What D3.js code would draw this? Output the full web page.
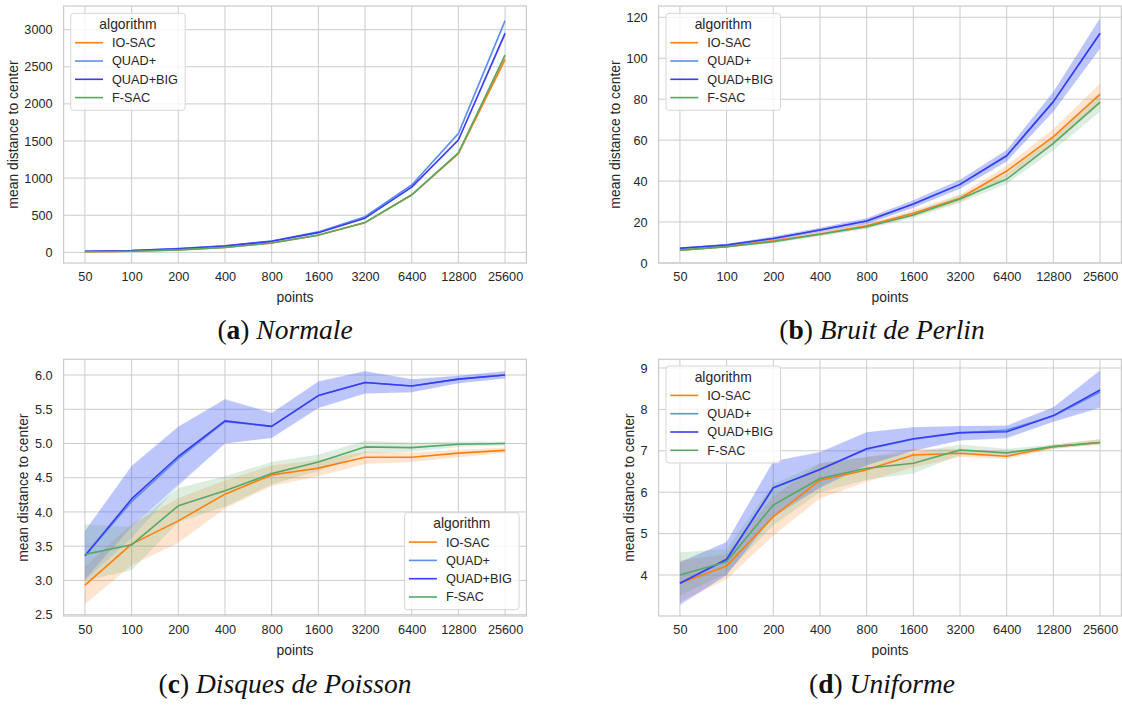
<!DOCTYPE html>
<html><head><meta charset="utf-8">
<script src="https://cdn.jsdelivr.net/npm/d3@7"></script>
<style>
html,body{margin:0;padding:0;background:#fff;}
svg{display:block;}
</style></head>
<body>
<svg id="chart" width="1122" height="706"></svg>
<script>
// ---------------- DATA ----------------
const categories = ["50","100","200","400","800","1600","3200","6400","12800","25600"];
const seriesNames = ["IO-SAC","QUAD+","QUAD+BIG","F-SAC"];
const seriesColors = ["#ff7f0e","#5b8ff0","#3b3bf6","#55a868"];

// (a) Normale
const normale_IOSAC    = [7,15,33,65,125,230,400,772,1330,2600];
const normale_IOSAC_lo = [6,14,31,62,121,224,392,760,1310,2565];
const normale_IOSAC_hi = [8,16,35,68,129,236,408,784,1350,2635];
const normale_QUAD     = [14,25,50,88,152,275,480,907,1600,3120];
const normale_QUAD_lo  = [13,24,48,85,148,268,470,893,1578,3080];
const normale_QUAD_hi  = [15,26,52,91,156,282,490,921,1622,3160];
const normale_QBIG     = [14,24,48,85,148,265,460,878,1513,2950];
const normale_QBIG_lo  = [13,23,46,82,144,259,451,865,1493,2912];
const normale_QBIG_hi  = [15,25,50,88,152,271,469,891,1533,2988];
const normale_FSAC     = [7,15,33,66,126,232,402,775,1340,2658];
const normale_FSAC_lo  = [6,14,31,63,122,226,394,763,1320,2622];
const normale_FSAC_hi  = [8,16,35,69,130,238,410,787,1360,2694];

// (b) Bruit de Perlin
const perlin_IOSAC    = [6.3,8.0,10.9,14.2,18.2,24.3,31.6,44.9,61.7,82.4];
const perlin_IOSAC_lo = [5.8,7.4,10.2,13.3,17.1,22.8,29.7,42.2,57.8,77.4];
const perlin_IOSAC_hi = [6.8,8.6,11.6,15.1,19.3,25.8,33.5,47.6,65.6,87.6];
const perlin_QUAD     = [7.2,8.8,12.0,16.1,20.5,28.8,38.4,52.4,78.8,112.0];
const perlin_QUAD_lo  = [6.7,8.2,11.1,15.0,19.1,27.0,36.2,49.6,74.0,104.8];
const perlin_QUAD_hi  = [7.7,9.4,12.9,17.2,21.9,30.6,40.6,55.2,83.6,119.2];
const perlin_QBIG     = [7.2,8.8,12.0,16.1,20.5,28.8,38.4,52.4,78.8,112.2];
const perlin_QBIG_lo  = [6.7,8.2,11.1,15.0,19.1,27.0,36.2,49.6,74.0,104.6];
const perlin_QBIG_hi  = [7.7,9.4,12.9,17.2,21.9,30.6,40.6,55.2,83.6,119.8];
const perlin_FSAC     = [6.3,8.0,10.4,14.0,17.7,23.4,31.3,41.0,58.4,78.6];
const perlin_FSAC_lo  = [5.8,7.4,9.7,13.1,16.6,22.0,29.5,38.6,55.0,73.8];
const perlin_FSAC_hi  = [6.8,8.6,11.1,14.9,18.8,24.8,33.1,43.4,61.8,83.4];

// (c) Disques de Poisson
const poisson_IOSAC    = [2.93,3.53,3.87,4.26,4.54,4.64,4.80,4.80,4.86,4.90];
const poisson_IOSAC_lo = [2.65,3.22,3.55,4.05,4.38,4.52,4.70,4.73,4.80,4.86];
const poisson_IOSAC_hi = [3.20,3.82,4.20,4.46,4.68,4.76,4.88,4.87,4.91,4.94];
const poisson_QUAD     = [3.36,4.15,4.78,5.32,5.25,5.70,5.89,5.84,5.94,6.00];
const poisson_QUAD_lo  = [3.00,3.62,4.38,5.00,5.08,5.52,5.73,5.75,5.88,5.95];
const poisson_QUAD_hi  = [3.72,4.66,5.24,5.64,5.44,5.90,6.05,5.94,5.99,6.05];
const poisson_QBIG     = [3.36,4.19,4.81,5.33,5.25,5.70,5.89,5.84,5.94,6.00];
const poisson_QBIG_lo  = [3.02,3.78,4.40,5.00,5.08,5.52,5.73,5.75,5.88,5.95];
const poisson_QBIG_hi  = [3.72,4.68,5.25,5.65,5.45,5.91,6.06,5.94,5.99,6.06];
const poisson_FSAC     = [3.38,3.52,4.09,4.31,4.56,4.73,4.95,4.94,4.99,5.00];
const poisson_FSAC_lo  = [3.00,3.15,3.85,4.08,4.40,4.60,4.86,4.88,4.95,4.97];
const poisson_FSAC_hi  = [3.82,3.78,4.35,4.52,4.73,4.84,5.04,5.01,5.03,5.03];

// (d) Uniforme
const uniforme_IOSAC    = [3.80,4.22,5.41,6.29,6.54,6.90,6.94,6.87,7.10,7.20];
const uniforme_IOSAC_lo = [3.35,3.90,4.95,5.85,6.25,6.60,6.85,6.80,7.05,7.15];
const uniforme_IOSAC_hi = [4.35,4.50,5.90,6.70,6.85,7.05,7.05,6.95,7.15,7.28];
const uniforme_QUAD     = [3.80,4.36,6.10,6.55,7.04,7.28,7.43,7.50,7.84,8.42];
const uniforme_QUAD_lo  = [3.30,4.00,5.45,6.12,6.65,7.00,7.25,7.32,7.70,8.02];
const uniforme_QUAD_hi  = [4.32,4.80,6.75,6.95,7.45,7.57,7.60,7.62,8.05,8.92];
const uniforme_QBIG     = [3.80,4.38,6.11,6.55,7.05,7.29,7.44,7.46,7.85,8.47];
const uniforme_QBIG_lo  = [3.27,4.00,5.40,6.10,6.65,7.00,7.25,7.30,7.70,8.05];
const uniforme_QBIG_hi  = [4.30,4.80,6.75,6.98,7.45,7.57,7.60,7.60,8.05,8.95];
const uniforme_FSAC     = [4.00,4.32,5.69,6.33,6.58,6.70,7.02,6.95,7.10,7.20];
const uniforme_FSAC_lo  = [3.50,4.05,5.20,6.00,6.30,6.45,6.90,6.85,7.05,7.15];
const uniforme_FSAC_hi  = [4.55,4.62,6.20,6.70,6.85,6.95,7.15,7.05,7.15,7.28];

// tick values
const ticksNormale  = [0,500,1000,1500,2000,2500,3000];
const ticksPerlin   = [0,20,40,60,80,100,120];
const ticksPoisson  = [2.5,3.0,3.5,4.0,4.5,5.0,5.5,6.0];
const ticksUniforme = [4,5,6,7,8,9];

const xLabel = "points";
const yLabel = "mean distance to center";
const legendTitle = "algorithm";
const captions = [
  {letter:"a", text:"Normale"},
  {letter:"b", text:"Bruit de Perlin"},
  {letter:"c", text:"Disques de Poisson"},
  {letter:"d", text:"Uniforme"}
];

// ---------------- DRAW ----------------
const svg = d3.select("#chart");
svg.append("rect").attr("width",1122).attr("height",706).attr("fill","#fff");

const FONT = "'Liberation Sans', Arial, sans-serif";
const TXT = "#262626";
const GRID = "#cccccc";

const panels = [
  {x0:63.6, x1:526.4, y0:6, y1:263, domain:[-144,3319], ticks:ticksNormale, fmt:d3.format("d"),
   series:[[normale_IOSAC,normale_IOSAC_lo,normale_IOSAC_hi],[normale_QUAD,normale_QUAD_lo,normale_QUAD_hi],
           [normale_QBIG,normale_QBIG_lo,normale_QBIG_hi],[normale_FSAC,normale_FSAC_lo,normale_FSAC_hi]],
   legend:[70.7,13.3], cap:[285,339], capIdx:0},
  {x0:658.6, x1:1121.4, y0:6, y1:263, domain:[0,125.5], ticks:ticksPerlin, fmt:d3.format("d"),
   series:[[perlin_IOSAC,perlin_IOSAC_lo,perlin_IOSAC_hi],[perlin_QUAD,perlin_QUAD_lo,perlin_QUAD_hi],
           [perlin_QBIG,perlin_QBIG_lo,perlin_QBIG_hi],[perlin_FSAC,perlin_FSAC_lo,perlin_FSAC_hi]],
   legend:[666,13.3], cap:[882,339], capIdx:1},
  {x0:63.6, x1:526.4, y0:359.3, y1:616, domain:[2.48,6.23], ticks:ticksPoisson, fmt:d3.format(".1f"),
   series:[[poisson_IOSAC,poisson_IOSAC_lo,poisson_IOSAC_hi],[poisson_QUAD,poisson_QUAD_lo,poisson_QUAD_hi],
           [poisson_QBIG,poisson_QBIG_lo,poisson_QBIG_hi],[poisson_FSAC,poisson_FSAC_lo,poisson_FSAC_hi]],
   legend:[404.6,512.7], cap:[285,693], capIdx:2},
  {x0:658.6, x1:1121.4, y0:359.3, y1:616, domain:[3.01,9.21], ticks:ticksUniforme, fmt:d3.format("d"),
   series:[[uniforme_IOSAC,uniforme_IOSAC_lo,uniforme_IOSAC_hi],[uniforme_QUAD,uniforme_QUAD_lo,uniforme_QUAD_hi],
           [uniforme_QBIG,uniforme_QBIG_lo,uniforme_QBIG_hi],[uniforme_FSAC,uniforme_FSAC_lo,uniforme_FSAC_hi]],
   legend:[666,366], cap:[882,693], capIdx:3}
];

panels.forEach(p => {
  const g = svg.append("g");
  const x = d3.scalePoint().domain(categories).range([p.x0,p.x1]).padding(0.457);
  const y = d3.scaleLinear().domain(p.domain).range([p.y1,p.y0]);

  // grid
  const vis = p.ticks.filter(t => y(t) >= p.y0-0.5 && y(t) <= p.y1+0.5);
  g.selectAll(".hg").data(vis).enter().append("line")
    .attr("x1",p.x0).attr("x2",p.x1).attr("y1",d=>y(d)).attr("y2",d=>y(d))
    .attr("stroke",GRID).attr("stroke-width",1);
  g.selectAll(".vg").data(categories).enter().append("line")
    .attr("x1",d=>x(d)).attr("x2",d=>x(d)).attr("y1",p.y0).attr("y2",p.y1)
    .attr("stroke",GRID).attr("stroke-width",1);

  // bands
  p.series.forEach((s,i) => {
    const rows = categories.map((c,k)=>({c, m:s[0][k], lo:s[1][k], hi:s[2][k]}));
    g.append("path").datum(rows)
      .attr("d", d3.area().x(d=>x(d.c)).y0(d=>y(d.lo)).y1(d=>y(d.hi)))
      .attr("fill", seriesColors[i]).attr("fill-opacity",0.2).attr("stroke","none");
  });
  // lines
  p.series.forEach((s,i) => {
    const rows = categories.map((c,k)=>({c, m:s[0][k]}));
    g.append("path").datum(rows)
      .attr("d", d3.line().x(d=>x(d.c)).y(d=>y(d.m)))
      .attr("fill","none").attr("stroke", seriesColors[i]).attr("stroke-width",1.6)
      .attr("stroke-linejoin","round");
  });

  // spines
  g.append("rect").attr("x",p.x0).attr("y",p.y0).attr("width",p.x1-p.x0).attr("height",p.y1-p.y0)
    .attr("fill","none").attr("stroke",GRID).attr("stroke-width",1.25);

  // y axis
  const yAxis = d3.axisLeft(y).tickValues(vis).tickFormat(p.fmt).tickSize(0).tickPadding(11);
  const ya = g.append("g").attr("transform",`translate(${p.x0},0)`).call(yAxis);
  ya.select(".domain").remove();
  ya.selectAll("text").attr("fill",TXT).style("font-family",FONT).style("font-size","12.7px");
  // x axis
  const xAxis = d3.axisBottom(x).tickSize(0).tickPadding(9);
  const xa = g.append("g").attr("transform",`translate(0,${p.y1})`).call(xAxis);
  xa.select(".domain").remove();
  xa.selectAll("text").attr("fill",TXT).style("font-family",FONT).style("font-size","12.7px");

  // labels
  g.append("text").attr("x",(p.x0+p.x1)/2).attr("y",p.y1+38.5).attr("text-anchor","middle")
    .attr("fill",TXT).style("font-family",FONT).style("font-size","13.9px").text(xLabel);
  let minLeft = Infinity;
  ya.selectAll("text").each(function(){ const b=this.getBBox(); const m=this.getCTM(); minLeft=Math.min(minLeft, b.x + m.e); });
  const lx = minLeft - 6.7, ly = (p.y0+p.y1)/2;
  g.append("text").attr("transform",`translate(${lx},${ly}) rotate(-90)`).attr("text-anchor","middle")
    .attr("fill",TXT).style("font-family",FONT).style("font-size","13.9px").text(yLabel);

  // legend
  const [lx0, ly0] = p.legend;
  const lg = g.append("g").attr("transform",`translate(${lx0},${ly0})`);
  lg.append("rect").attr("width",114.5).attr("height",97).attr("rx",3).attr("ry",3)
    .attr("fill","#fff").attr("fill-opacity",0.8).attr("stroke","#d6d6d6").attr("stroke-width",1);
  lg.append("text").attr("x",57.2).attr("y",10.9).attr("dy","0.35em").attr("text-anchor","middle")
    .attr("fill",TXT).style("font-family",FONT).style("font-size","13.9px").text(legendTitle);
  seriesNames.forEach((n,i) => {
    const yy = 29.4 + i*18.3;
    lg.append("line").attr("x1",4.3).attr("x2",32.3).attr("y1",yy).attr("y2",yy)
      .attr("stroke",seriesColors[i]).attr("stroke-width",1.6);
    lg.append("text").attr("x",41.3).attr("y",yy).attr("dy","0.35em")
      .attr("fill",TXT).style("font-family",FONT).style("font-size","12.7px").text(n);
  });

  // caption
  const c = captions[p.capIdx];
  const ct = svg.append("text").attr("x",p.cap[0]).attr("y",p.cap[1]).attr("text-anchor","middle")
    .style("font-family","'Liberation Serif','Times New Roman',serif").style("font-size","27.5px").attr("fill","#111");
  ct.append("tspan").text("(");
  ct.append("tspan").attr("font-weight","bold").text(c.letter);
  ct.append("tspan").text(") ");
  ct.append("tspan").attr("font-style","italic").text(c.text);
});
</script>
</body></html>
